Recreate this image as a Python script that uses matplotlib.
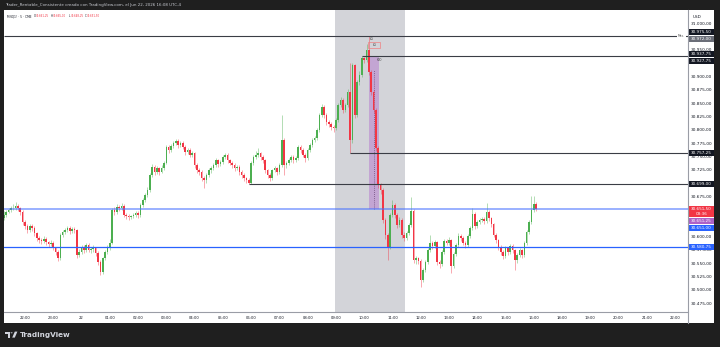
import matplotlib
matplotlib.use("Agg")
import matplotlib.pyplot as plt
import matplotlib.transforms as mtransforms
from matplotlib.patches import Rectangle, Polygon, Circle
from matplotlib.lines import Line2D

# MNQ1! 5 min bars, 21:15 (jun 21) -> 16:05 (jun 22)
first_open = 30634
closes = [
    30640, 30646, 30649, 30653, 30653, 30657, 30653, 30646, 30627, 30619,
    30612, 30619, 30616, 30606, 30597, 30593, 30591, 30595, 30589, 30586,
    30588, 30578, 30571, 30559, 30603, 30608, 30612, 30616, 30610, 30614,
    30612, 30565, 30571, 30580, 30574, 30584, 30574, 30576, 30578, 30569,
    30552, 30533, 30559, 30571, 30578, 30588, 30649, 30646, 30655, 30653,
    30657, 30640, 30638, 30636, 30638, 30640, 30644, 30640, 30659, 30668,
    30677, 30687, 30715, 30730, 30721, 30728, 30721, 30728, 30738, 30768,
    30762, 30769, 30775, 30779, 30771, 30775, 30768, 30758, 30762, 30753,
    30756, 30734, 30724, 30721, 30709, 30706, 30715, 30724, 30728, 30734,
    30743, 30736, 30739, 30749, 30753, 30743, 30738, 30734, 30728, 30730,
    30721, 30715, 30709, 30706, 30700, 30738, 30749, 30753, 30756, 30749,
    30743, 30724, 30715, 30709, 30724, 30728, 30721, 30734, 30781, 30734,
    30738, 30743, 30749, 30743, 30747, 30768, 30762, 30753, 30747, 30762,
    30771, 30781, 30784, 30799, 30828, 30843, 30828, 30814, 30811, 30805,
    30803, 30818, 30846, 30856, 30837, 30846, 30871, 30781, 30921, 30828,
    30889, 30903, 30934, 30931, 30949, 30908, 30871, 30837, 30766, 30696,
    30687, 30631, 30603, 30580, 30640, 30659, 30640, 30621, 30631, 30603,
    30597, 30606, 30621, 30648, 30556, 30559, 30554, 30518, 30537, 30552,
    30574, 30588, 30582, 30589, 30552, 30548, 30571, 30591, 30588, 30593,
    30544, 30567, 30584, 30601, 30597, 30588, 30584, 30601, 30616, 30642,
    30619, 30627, 30631, 30633, 30629, 30646, 30634, 30623, 30603, 30593,
    30580, 30571, 30563, 30578, 30571, 30582, 30574, 30556, 30565, 30574,
    30565, 30588, 30608, 30627, 30649, 30661.25, 30651.5,
]
highs = [
    30647, 30650, 30654, 30657, 30660, 30664, 30661, 30656, 30649, 30631,
    30623, 30624, 30623, 30620, 30609, 30601, 30597, 30600, 30598, 30592,
    30593, 30591, 30581, 30574, 30606, 30612, 30616, 30620, 30619, 30618,
    30617, 30614, 30576, 30584, 30583, 30588, 30587, 30580, 30583, 30581,
    30572, 30555, 30562, 30575, 30584, 30595, 30653, 30656, 30660, 30658,
    30662, 30660, 30644, 30642, 30641, 30644, 30648, 30647, 30663, 30672,
    30681, 30692, 30719, 30735, 30733, 30732, 30731, 30733, 30742, 30772,
    30771, 30774, 30779, 30783, 30782, 30779, 30778, 30771, 30766, 30765,
    30761, 30759, 30738, 30728, 30724, 30713, 30719, 30728, 30732, 30738,
    30747, 30746, 30743, 30753, 30757, 30756, 30746, 30742, 30737, 30734,
    30733, 30724, 30718, 30712, 30709, 30742, 30753, 30760, 30766, 30759,
    30752, 30746, 30727, 30718, 30727, 30732, 30731, 30737, 30828, 30784,
    30742, 30747, 30753, 30752, 30751, 30772, 30771, 30765, 30756, 30766,
    30775, 30785, 30789, 30803, 30832, 30848, 30846, 30831, 30818, 30815,
    30809, 30822, 30850, 30861, 30859, 30851, 30876, 30925, 30926, 30924,
    30893, 30910, 30937.75, 30937, 30960, 30975.5, 30912, 30875, 30840, 30769,
    30700, 30690, 30634, 30607, 30644, 30668, 30662, 30643, 30636, 30634,
    30608, 30610, 30625, 30674, 30651, 30563, 30562, 30557, 30541, 30556,
    30578, 30603, 30592, 30594, 30592, 30556, 30575, 30595, 30596, 30598,
    30596, 30571, 30588, 30606, 30605, 30601, 30592, 30605, 30620, 30653,
    30645, 30631, 30635, 30637, 30636, 30663, 30649, 30637, 30626, 30607,
    30596, 30583, 30574, 30582, 30581, 30586, 30585, 30577, 30569, 30578,
    30577, 30592, 30612, 30631, 30676, 30676, 30665,
]
lows = [
    30630, 30636, 30643, 30645, 30649, 30650, 30648, 30641, 30622, 30614,
    30606, 30609, 30611, 30601, 30592, 30587, 30586, 30588, 30584, 30580,
    30582, 30574, 30565, 30553, 30556, 30599, 30604, 30608, 30605, 30606,
    30607, 30560, 30561, 30567, 30569, 30570, 30570, 30569, 30571, 30564,
    30546, 30528, 30530, 30556, 30567, 30574, 30585, 30641, 30642, 30648,
    30650, 30636, 30633, 30631, 30632, 30634, 30637, 30635, 30637, 30655,
    30664, 30673, 30684, 30711, 30716, 30717, 30716, 30718, 30724, 30735,
    30757, 30758, 30765, 30771, 30766, 30767, 30763, 30753, 30754, 30748,
    30749, 30729, 30718, 30716, 30703, 30691, 30701, 30711, 30719, 30724,
    30730, 30731, 30732, 30735, 30745, 30738, 30733, 30729, 30723, 30724,
    30716, 30710, 30704, 30701, 30699, 30699, 30734, 30745, 30749, 30744,
    30738, 30719, 30710, 30704, 30706, 30720, 30716, 30717, 30730, 30716,
    30729, 30734, 30739, 30738, 30739, 30744, 30757, 30748, 30740, 30744,
    30758, 30767, 30777, 30780, 30796, 30824, 30822, 30808, 30805, 30799,
    30796, 30799, 30815, 30842, 30831, 30833, 30842, 30757.25, 30776, 30822,
    30824, 30884, 30899, 30925, 30927, 30903, 30865, 30831, 30760, 30690,
    30680, 30625, 30596, 30556, 30576, 30636, 30634, 30615, 30617, 30597,
    30591, 30593, 30602, 30618, 30550, 30549, 30548, 30505, 30514, 30533,
    30548, 30570, 30577, 30578, 30546, 30540, 30545, 30567, 30583, 30584,
    30531, 30540, 30563, 30580, 30592, 30583, 30578, 30580, 30597, 30612,
    30614, 30615, 30623, 30627, 30624, 30625, 30629, 30618, 30598, 30588,
    30575, 30565, 30557, 30559, 30566, 30567, 30569, 30537, 30551, 30561,
    30560, 30562, 30584, 30604, 30623, 30645, 30648.25,
]
# futures bars open where the previous one closed
opens = [first_open] + closes[:-1]

# bar index of each time label (17:00-18:00 is the daily break)
time_ticks = [9, 21, 33, 45, 57, 69, 81, 93, 105, 117, 129, 141, 153, 165,
              177, 189, 201, 213, 225, 237, 249, 261, 273, 285]
time_labels = ['22:00', '23:00', '22', '01:00', '02:00', '03:00', '04:00',
               '05:00', '06:00', '07:00', '08:00', '09:00', '10:00', '11:00',
               '12:00', '13:00', '14:00', '15:00', '16:00', '18:00', '19:00',
               '20:00', '21:00', '22:00']
# scale values that are not covered by a price tag
price_ticks = [30475, 30500, 30525, 30550, 30575, 30600, 30675, 30725, 30750,
               30775, 30800, 30825, 30850, 30875, 30900, 30950, 31000]

levels = [30975.5, 30937.75, 30757.25, 30699.0]
level_from = [0, 152, 147, 104]
blue_levels = [30651.0, 30580.75]
session = (141, 171)          # 09:00 - 11:30
fvg_bars = (155, 159)
fvg_prices = (30651.0, 30937.75)

GREEN = '#4caf50'
RED = '#f23645'
DARK = '#131722'


def eu(v):
    s = f"{v:,.2f}"
    return s.replace(',', 'X').replace('.', ',').replace('X', '.')


W, H = 720, 347
fig = plt.figure(figsize=(7.2, 3.47), dpi=100, facecolor='#1f1f1f')


def fx(px):
    return px / W


def fy(py):
    return 1 - py / H


# white chart panel
fig.add_artist(Rectangle((fx(4), fy(323)), 710 / W, 313 / H, transform=fig.transFigure,
                         facecolor='white', edgecolor='none', zorder=-1))

ax = fig.add_axes([fx(4), fy(312), 684 / W, 302 / H])
ax.set_facecolor('white')
for s in ax.spines.values():
    s.set_visible(False)
ax.set_xlim(0.085, 290.5)
ax.set_ylim(30458.2, 31024.5)

# session shading and fvg box
ax.axvspan(session[0] - 0.5, session[1] - 0.5, color='#d3d4d9', lw=0, zorder=1)
ax.add_patch(Rectangle((fvg_bars[0], fvg_prices[0]), fvg_bars[1] - fvg_bars[0] + 0.5,
                       fvg_prices[1] - fvg_prices[0], facecolor='#b77fcf', alpha=0.55,
                       edgecolor='none', zorder=2))
ax.vlines(fvg_bars[0] + 2.2, fvg_prices[0], 30912, colors='#6d4a7a', lw=0.6,
          linestyles=(0, (1, 1.5)), zorder=2.5)

# candles
x = list(range(len(closes)))
cols = [GREEN if c >= o else RED for o, c in zip(opens, closes)]
ax.vlines(x, lows, highs, colors=cols, lw=0.6, alpha=0.5, zorder=3)
bottoms = [min(o, c) for o, c in zip(opens, closes)]
heights = [max(abs(c - o), 0.8) for o, c in zip(opens, closes)]
ax.bar(x, heights, bottom=bottoms, width=0.68, color=cols, lw=0, zorder=4)

# levels
for lv, start in zip(levels, level_from):
    ax.plot([start, 290.5], [lv, lv], color='#3a3d45', lw=0.8, zorder=5,
            solid_capstyle='butt')
ax.plot([0.085, 290.5], [blue_levels[0], blue_levels[0]], color='#4a73ff',
        lw=1.3, alpha=0.6, zorder=5)
ax.plot([0.085, 290.5], [blue_levels[1], blue_levels[1]], color='#2962ff',
        lw=0.9, zorder=5)
ax.text(287.6, levels[0], 'Máx.', fontsize=2.2, color='#555555', ha='center',
        va='center', zorder=6, bbox=dict(facecolor='white', edgecolor='none', pad=0.6))

# small liquidity tags near the top
ax.text(156.4, 30971, 'LG', fontsize=2.2, color='#444444', ha='center', va='center', zorder=6)
ax.add_patch(Rectangle((154.6, 30953), 5.1, 11.5, facecolor='none', edgecolor='#f08080',
                       lw=0.5, zorder=6))
ax.text(157.4, 30958.5, 'LG', fontsize=2.2, color='#444444', ha='center', va='center', zorder=6)
ax.text(159.6, 30931, '60D', fontsize=2.0, color='#444444', ha='center', va='center', zorder=6)

# axes text
ax.set_xticks(time_ticks)
ax.set_xticklabels(time_labels)
ax.tick_params(axis='x', length=0, pad=2.6, labelsize=2.7, labelcolor=DARK)
ax.yaxis.tick_right()
ax.set_yticks(price_ticks)
ax.set_yticklabels([eu(v) for v in price_ticks])
ax.tick_params(axis='y', length=0, pad=2.1, labelsize=3.1, labelcolor=DARK)

# price-scale tags
trans = mtransforms.blended_transform_factory(ax.transAxes, ax.transData)
bx0 = (688.5 - 4) / 684
bw = 25.5 / 684
tags = [
    (levels[0], 30983.8, DARK, 6),
    (30972.0, 30970.8, '#6b6e78', 6),
    (levels[1], 30941.2, DARK, 6),
    (30927.75, 30928.6, DARK, 6),
    (levels[2], levels[2], DARK, 6),
    (levels[3], levels[3], DARK, 6),
    (30651.25, 30628.6, '#ae62c7', 6),
    (blue_levels[0], 30616.0, '#2962ff', 6),
    (blue_levels[1], blue_levels[1], '#2962ff', 6),
]
for val, yc, face, hpx in tags:
    h = hpx * 1.875
    ax.add_patch(Rectangle((bx0, yc - h / 2), bw, h, transform=trans, facecolor=face,
                           edgecolor='none', clip_on=False, zorder=8))
    ax.text(bx0 + bw / 2, yc, eu(val), transform=trans, ha='center', va='center',
            fontsize=3.0, color='white', clip_on=False, zorder=9)
# last price tag with countdown
h = 11.5 * 1.875
ax.add_patch(Rectangle((bx0, 30646.6 - h / 2), bw, h, transform=trans, facecolor=RED,
                       edgecolor='none', clip_on=False, zorder=8))
ax.text(bx0 + bw / 2, 30646.6, eu(closes[-1]) + '\n03:36', transform=trans, ha='center',
        va='center', fontsize=3.0, color='white', clip_on=False, zorder=9, linespacing=1.1)

# separators
fig.add_artist(Line2D([fx(688), fx(688)], [fy(10), fy(323)], color='#9a9da6', lw=0.8))
fig.add_artist(Line2D([fx(4), fx(688)], [fy(312.3), fy(312.3)], color='#9a9da6', lw=0.8))

# header
fig.text(fx(5), fy(5), 'Trader_Rentable_Consistente creado con TradingView.com, el Jun 22, 2026 16:08 UTC-4',
         fontsize=2.9, color='#c9cbd2', ha='left', va='center')
fig.text(fx(693), fy(17), 'USD', fontsize=3.0, color=DARK, ha='left', va='center')
fig.text(fx(7), fy(16), 'MNQ1! · 5 · CME', fontsize=2.2, color=DARK, ha='left', va='center')
ohlc = [('O', 34, opens[-1]), ('H', 50.5, highs[-1]), ('L', 68.8, lows[-1]), ('C', 85, closes[-1])]
for letter, px, val in ohlc:
    fig.text(fx(px), fy(16), letter, fontsize=1.9, color=DARK, ha='left', va='center')
    fig.text(fx(px + 1.9), fy(16), eu(val), fontsize=1.9, color=RED, ha='left', va='center')

# TradingView logo
lc = '#d1d4dc'
fig.add_artist(Rectangle((fx(5), fy(333.6)), 5 / W, 2 / H, transform=fig.transFigure,
                         facecolor=lc, edgecolor='none'))
fig.add_artist(Rectangle((fx(8), fy(337.6)), 2 / W, 6 / H, transform=fig.transFigure,
                         facecolor=lc, edgecolor='none'))
fig.add_artist(Circle((fx(11.6), fy(332.8)), 1.0 / W, transform=fig.transFigure,
                      facecolor=lc, edgecolor='none'))
fig.add_artist(Polygon([(fx(12.2), fy(337.6)), (fx(14.8), fy(331.6)), (fx(17.4), fy(331.6)),
                        (fx(14.8), fy(337.6))], closed=True, transform=fig.transFigure,
                       facecolor=lc, edgecolor='none'))
fig.text(fx(19.5), fy(334.8), 'TradingView', fontsize=5.2, fontweight='bold', color=lc,
         ha='left', va='center')

fig.savefig('out.png', dpi=100, facecolor=fig.get_facecolor())
